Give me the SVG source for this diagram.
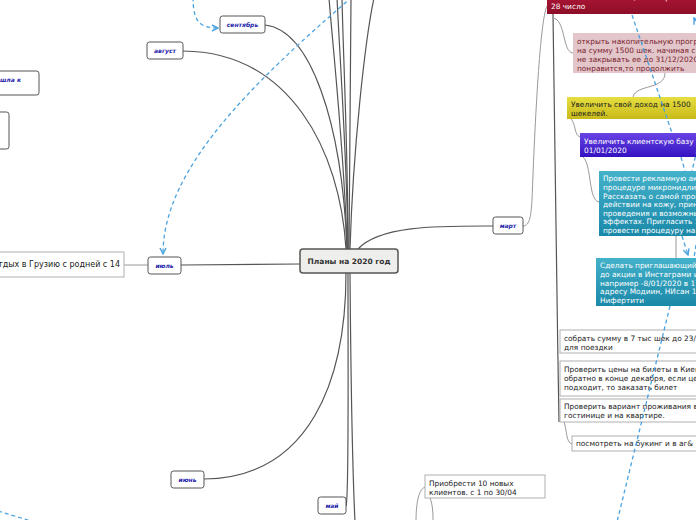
<svg xmlns="http://www.w3.org/2000/svg" width="696" height="520" viewBox="0 0 696 520">
<defs>
<linearGradient id="gRed" x1="0" y1="0" x2="0" y2="1"><stop offset="0" stop-color="#b8183a"/><stop offset="1" stop-color="#8c0e28"/></linearGradient>
<linearGradient id="gPur" x1="0" y1="0" x2="0" y2="1"><stop offset="0" stop-color="#6a44e4"/><stop offset="1" stop-color="#3412c2"/></linearGradient>
<linearGradient id="gTeal" x1="0" y1="0" x2="0" y2="1"><stop offset="0" stop-color="#44b2ca"/><stop offset="1" stop-color="#1a88a8"/></linearGradient>
<linearGradient id="gYel" x1="0" y1="0" x2="0" y2="1"><stop offset="0" stop-color="#e6de40"/><stop offset="1" stop-color="#c9ba1a"/></linearGradient>
<marker id="arr" viewBox="0 0 8 8" refX="7" refY="4" markerWidth="8" markerHeight="8" markerUnits="userSpaceOnUse" orient="auto"><path d="M1,1 L7,4 L1,7" fill="none" stroke="#4aa3e0" stroke-width="1.4"/></marker>
</defs>
<style>
.t{font-family:"DejaVu Sans","Liberation Sans",sans-serif;font-size:7.4px;fill:#222}
.w{fill:#fff}
.m{font-family:"DejaVu Sans","Liberation Sans",sans-serif;font-size:6px;font-weight:bold;font-style:italic;fill:#1c1caa;text-anchor:middle}
.mb{fill:#fff;stroke:#555;stroke-width:1}
.c{fill:none;stroke:#555;stroke-width:1.2}
.cl{fill:none;stroke:#999;stroke-width:1}
.d{fill:none;stroke:#4aa3e0;stroke-width:1.3;stroke-dasharray:4 3}
.wb{fill:#fff;stroke:#b0b0b0;stroke-width:1}
</style>
<rect width="696" height="520" fill="#fff"/>
<g id="connectors">
<path class="c" d="M183,51 C290,52 340,150 346,249"/>
<path class="c" d="M265,25 C310,30 342,120 347,249"/>
<path class="c" d="M347,249 C345,160 334,60 329,-2"/>
<path class="c" d="M348,249 C347,160 340,60 337,-2"/>
<path class="c" d="M348,249 C348,150 343,50 342,-2"/>
<path class="c" d="M349,249 C350,150 351,50 351,-2"/>
<path class="c" d="M350,249 C353,150 365,40 374,-2"/>
<path class="c" d="M358,249 C380,225 440,226 493,226"/>
<path class="c" d="M181,265 L300,264"/>
<path class="c" d="M346,273 C346,380 310,478 204,479"/>
<path class="c" d="M348,273 C348,400 349,500 346,506"/>
<path class="c" d="M350,273 C351,400 353,480 355,522"/>
<path class="cl" d="M523,226 C530,226 531,215 532,200 C535,120 540,20 547,6"/>
<path class="cl" d="M148,265 L124,265"/>
<path class="c" d="M553,14 C555,200 557,300 559,422"/>
<path class="cl" d="M553,18 C566,20 562,52 573,53"/>
<path class="cl" d="M665,73 C665,90 636,84 633,97"/>
<path class="cl" d="M571,119 C576,124 574,135 580,137"/>
<path class="cl" d="M583,157 C592,165 588,200 599,202"/>
<path class="cl" d="M676,236 L676,258"/>
<path class="cl" d="M564,422 C567,430 566,443 572,444"/>
<path class="cl" d="M425,487 C418,490 416,505 416,522"/>
<path class="cl" d="M430,498 C433,505 433,515 433,522"/>
</g>
<g id="center"><rect x="300" y="249" width="98" height="24" rx="3" fill="#eeeeec" stroke="#555753" stroke-width="1.5"/><text x="349" y="264" text-anchor="middle" style="font-family:'DejaVu Sans',sans-serif;font-size:7.5px;font-weight:bold;fill:#333">Планы на 2020 год</text></g>
<g id="sep"><rect class="mb" x="220" y="16" width="45" height="17" rx="2.5"/><text class="m" x="242.5" y="27">сентябрь</text></g>
<g id="aug"><rect class="mb" x="147" y="42" width="36" height="17" rx="2.5"/><text class="m" x="165" y="53">август</text></g>
<g id="jul"><rect class="mb" x="148" y="257" width="33" height="17" rx="2.5"/><text class="m" x="164.5" y="268">июль</text></g>
<g id="jun"><rect class="mb" x="171" y="471" width="33" height="17" rx="2.5"/><text class="m" x="187.5" y="482">июнь</text></g>
<g id="may"><rect class="mb" x="318" y="497" width="28" height="17" rx="2.5"/><text class="m" x="332" y="508">май</text></g>
<g id="mar"><rect class="mb" x="493" y="217" width="30" height="17" rx="2.5"/><text class="m" x="508" y="228">март</text></g>
<g id="left1"><rect class="mb" x="-10" y="71" width="49" height="24" rx="2.5"/><text class="m" x="0" y="82" style="text-anchor:start">шла к</text></g>
<g id="left2"><rect class="mb" x="-10" y="112" width="19" height="37" rx="2.5"/></g>
<g id="trip"><rect class="wb" x="-5" y="252" width="129" height="25"/><text class="t" x="120" y="267" text-anchor="end" style="font-size:8px">Отдых в Грузию с родней с 14</text></g>
<g id="red"><rect x="547" y="-10" width="160" height="24" fill="url(#gRed)"/><text class="t w" x="551" y="0">Написать на ватсапп, Инстаграм и Инст</text><text class="t w" x="551" y="9">28 число</text></g>
<g id="pink"><rect x="573" y="33" width="130" height="40" fill="#e2c6ca"/><g class="t" style="fill:#7a1e2e"><text x="577" y="44">открыть накопительную программу</text><text x="577" y="53">на сумму 1500 шек. начиная с</text><text x="577" y="62">не закрывать ее до 31/12/2020</text><text x="577" y="70.5">понравится,то продолжить</text></g></g>
<g id="yellow"><rect x="567" y="97" width="135" height="22" fill="url(#gYel)"/><text class="t" x="571" y="107">Увеличить свой доход на 1500</text><text class="t" x="571" y="116">шекелей.</text></g>
<g id="purple"><rect x="580" y="133" width="122" height="24" fill="url(#gPur)"/><text class="t w" x="584" y="144">Увеличить клиентскую базу</text><text class="t w" x="584" y="153">01/01/2020</text></g>
<g id="teal1"><rect x="599" y="171" width="103" height="65" fill="url(#gTeal)"/><g class="t w"><text x="603" y="181">Провести рекламную акцию</text><text x="603" y="190">процедуре микронидлинга</text><text x="603" y="198.5">Рассказать о самой процедуре</text><text x="603" y="207">действии на кожу, принципе</text><text x="603" y="215.5">проведения и возможных</text><text x="603" y="224">эффектах. Пригласить 10</text><text x="603" y="232.5">провести процедуру на одном</text></g></g>
<g id="teal2"><rect x="596" y="258" width="106" height="48" fill="url(#gTeal)"/><g class="t w"><text x="600" y="268">Сделать приглашающий пост</text><text x="600" y="277">до акции в Инстаграми и на</text><text x="600" y="285.5">например -8/01/2020 в 17</text><text x="600" y="294">адресу Модиин, НИсан 115</text><text x="600" y="302.5">Нифертити</text></g></g>
<g id="box1"><rect class="wb" x="560" y="330" width="142" height="23"/><text class="t" x="564" y="341">собрать сумму в 7 тыс шек до 23/12</text><text class="t" x="564" y="349.5">для поездки</text></g>
<g id="box2"><rect class="wb" x="560" y="361" width="142" height="35"/><text class="t" x="564" y="372">Проверить цены на билеты в Киев</text><text class="t" x="564" y="381">обратно в конце декабря, если цена</text><text class="t" x="564" y="390">подходит, то заказать билет</text></g>
<g id="box3"><rect class="wb" x="560" y="399" width="142" height="23"/><text class="t" x="564" y="409">Проверить вариант проживания в</text><text class="t" x="564" y="418">гостинице и на квартире.</text></g>
<g id="box4"><rect class="wb" x="572" y="436" width="130" height="15"/><text class="t" x="576" y="446">посмотреть на букинг  и в аг&amp;</text></g>
<g id="box5"><rect class="wb" x="425" y="475" width="120" height="23"/><text class="t" x="429" y="486">Приобрести 10 новых</text><text class="t" x="429" y="495">клиентов. с 1 по 30/04</text></g>
<g id="dashed">
<path class="d" d="M352,-3 C250,85 163,170 163,254" marker-end="url(#arr)"/>
<path class="d" d="M193,-3 C193,22 200,28 218,28" marker-end="url(#arr)"/>
<path class="d" d="M632,15 L672,133"/>
<path class="d" d="M681,157 L685,171"/>
<path class="d" d="M697,150 L692,171"/>
<path class="d" d="M682,236 L688,255" marker-end="url(#arr)"/>
<path class="d" d="M697,238 L694,258"/>
<path class="d" d="M670,306 L617,522"/>
<path class="d" d="M705,40 L694,18" marker-end="url(#arr)"/>
<path class="d" d="M-2,511 L31,521"/>
</g>
</svg>
